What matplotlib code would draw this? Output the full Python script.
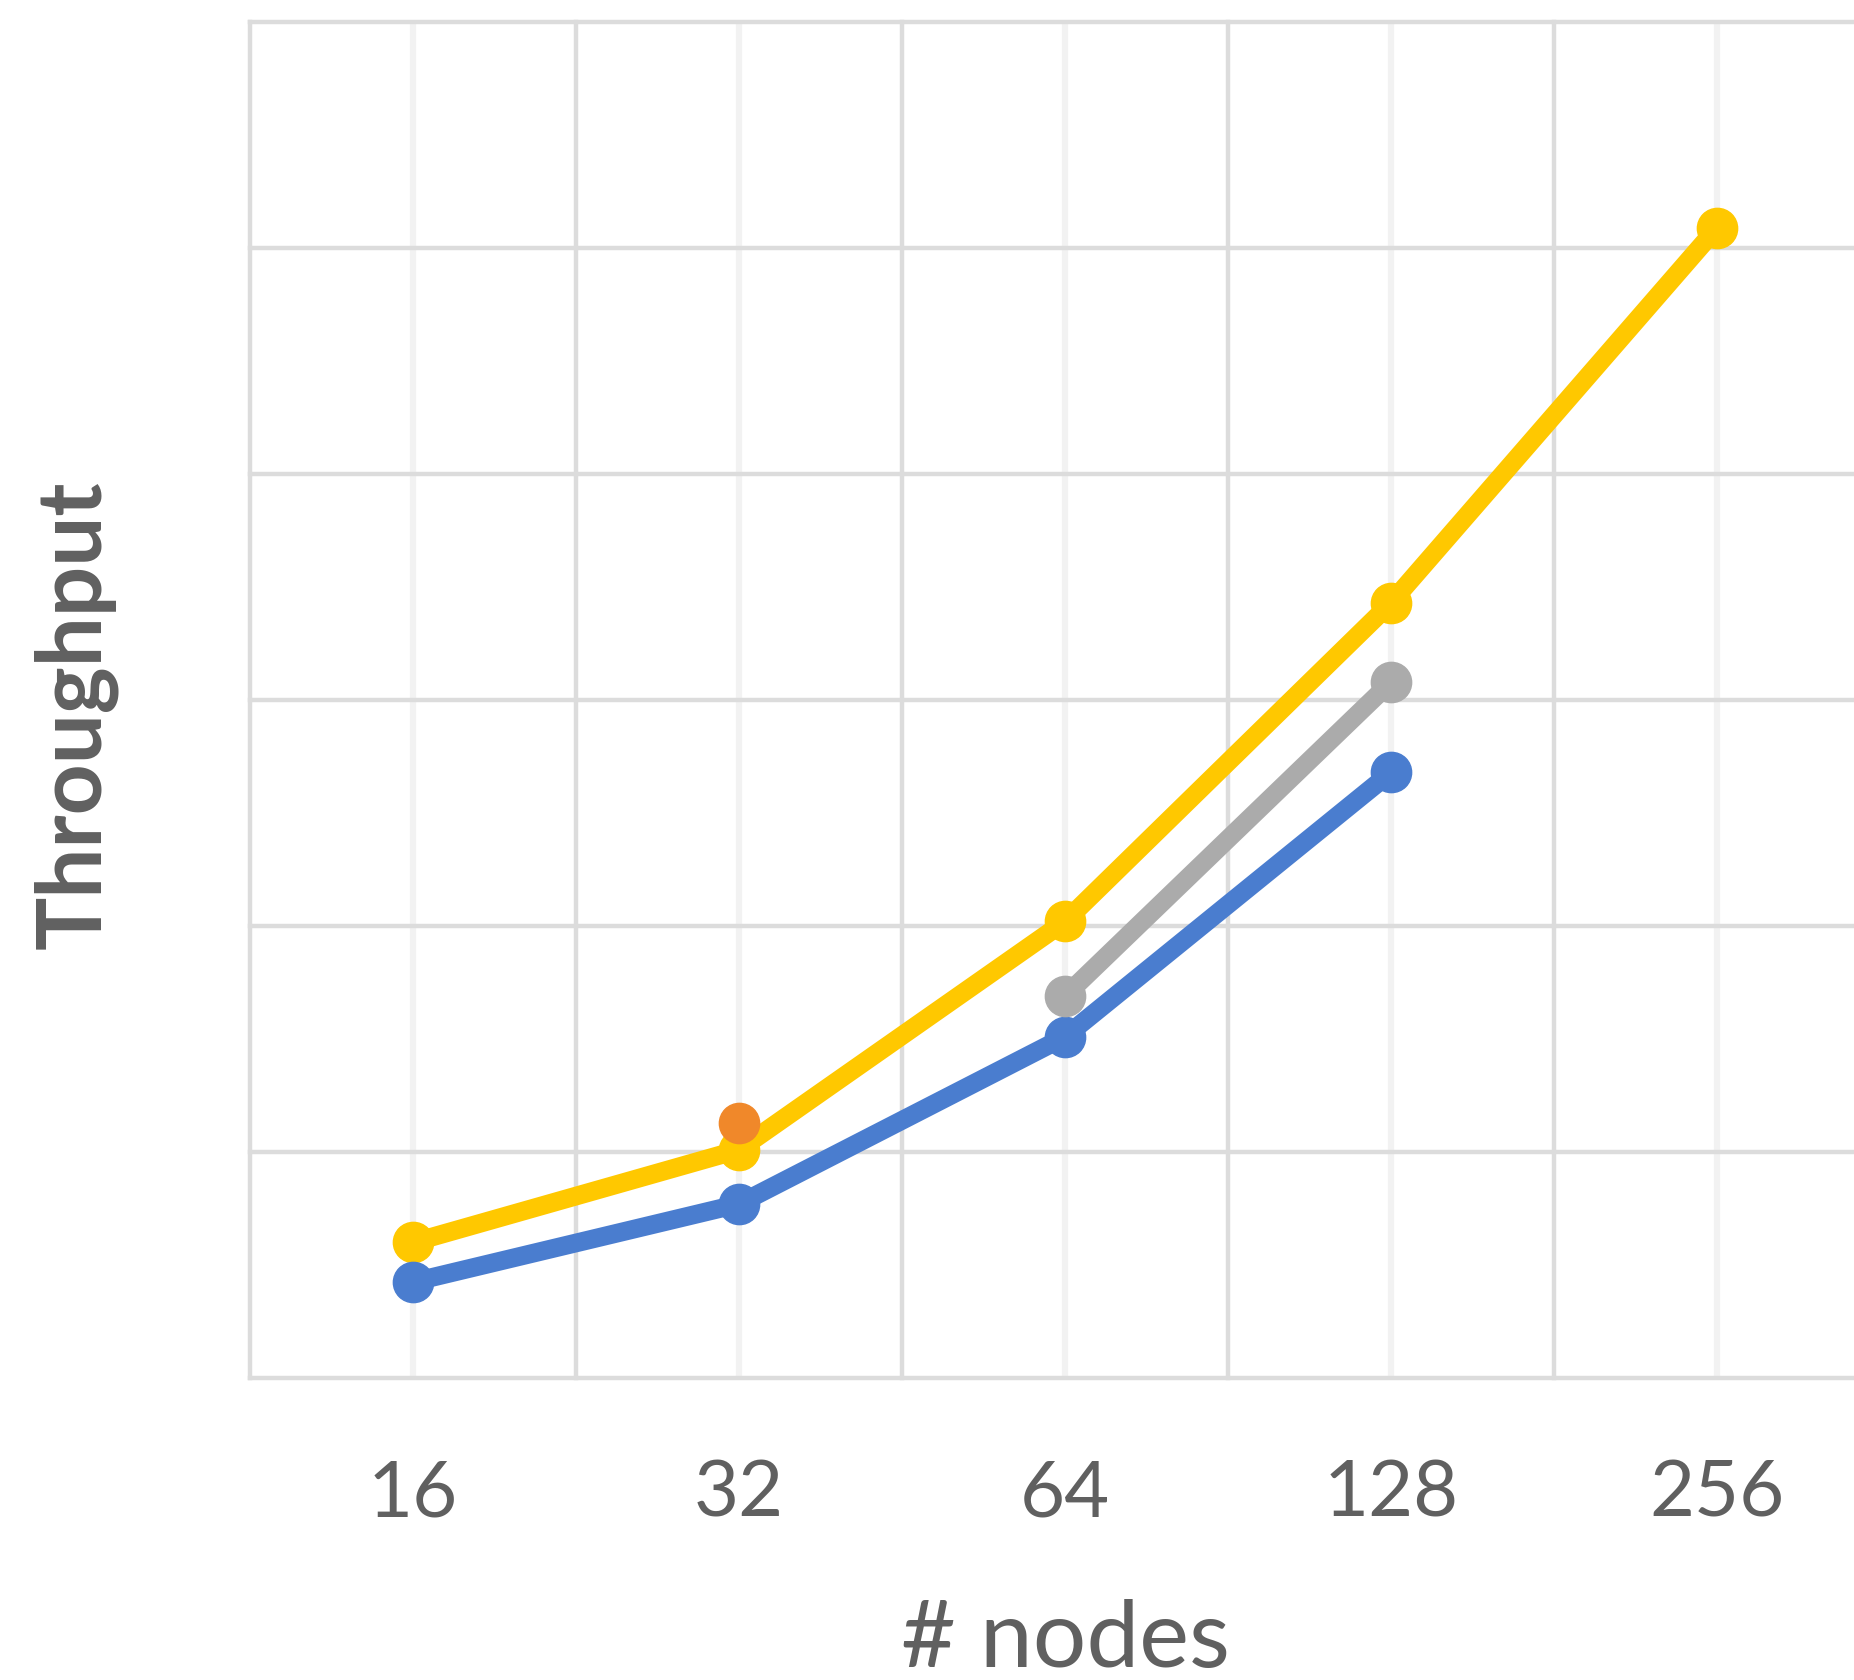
import matplotlib
matplotlib.use("Agg")
import matplotlib.pyplot as plt
import numpy as np

# data (y in gridline units, 0..6)
nodes = ["16", "32", "64", "128", "256"]
series_yellow = [0.60, 1.01, 2.02, 3.43, 5.09]
series_blue = [0.425, 0.77, 1.51, 2.68, np.nan]
series_gray = [np.nan, np.nan, 1.69, 3.08, np.nan]
series_orange = [np.nan, 1.13, np.nan, np.nan, np.nan]
y_grid = [0, 1, 2, 3, 4, 5, 6]

W, H = 1854, 1680
DPI = 100
TEXT = "#606060"

plt.rcParams["font.family"] = ["Lato", "DejaVu Sans"]

fig = plt.figure(figsize=(W / DPI, H / DPI), dpi=DPI)

# plot area in pixels (x: -0.5 -> 250px, 326px per category; y: 0 -> 1378px, 226px per unit)
xlim = (-0.5, 4.5)
ylim = (0, 6)
x0 = 250 + (xlim[0] + 0.5) * 326
x1 = 250 + (xlim[1] + 0.5) * 326
y_bot = 1378 - ylim[0] * 226
y_top = 1378 - ylim[1] * 226
ax = fig.add_axes([x0 / W, (H - y_bot) / H, (x1 - x0) / W, (y_bot - y_top) / H])

x = np.arange(len(nodes))
line_kw = dict(marker="o", linewidth=13.5, markersize=29, solid_capstyle="round",
               solid_joinstyle="round", clip_on=False)
ax.plot(x, series_yellow, color="#FFC800", zorder=3, **line_kw)
ax.plot(x, series_blue, color="#4A7DCF", zorder=4, **line_kw)
ax.plot(x, series_gray, color="#ABABAB", zorder=5, **line_kw)
ax.plot(x, series_orange, color="#F0882A", zorder=6, **line_kw)

ax.set_xlim(*xlim)
ax.set_ylim(*ylim)
ax.set_xticks(np.arange(-0.5, len(nodes), 1.0))
ax.set_xticklabels([])
ax.set_xticks(x, minor=True)
ax.set_xticklabels(nodes, minor=True)
ax.set_yticks(y_grid)
ax.set_yticklabels([])
ax.tick_params(which="both", length=0)
ax.tick_params(axis="x", which="minor", labelsize=56, labelcolor=TEXT, pad=59)

ax.grid(True, which="major", color="#DCDCDC", linewidth=3.2, zorder=0, clip_on=False)
ax.grid(True, which="minor", axis="x", color="#F2F2F2", linewidth=4.5, zorder=0)
ax.set_axisbelow(True)
for s in ax.spines.values():
    s.set_visible(False)

ax.set_xlabel("# nodes", fontsize=68, color=TEXT, va="baseline")
ax.xaxis.set_label_coords(0.5, (y_bot - 1667) / (y_bot - y_top))
ax.set_ylabel("Throughput", fontsize=64, fontweight="bold", color=TEXT,
              va="center", ha="center")
ax.yaxis.set_label_coords((75 - x0) / (x1 - x0), (y_bot - 715) / (y_bot - y_top))

fig.savefig("out.png", dpi=DPI)
